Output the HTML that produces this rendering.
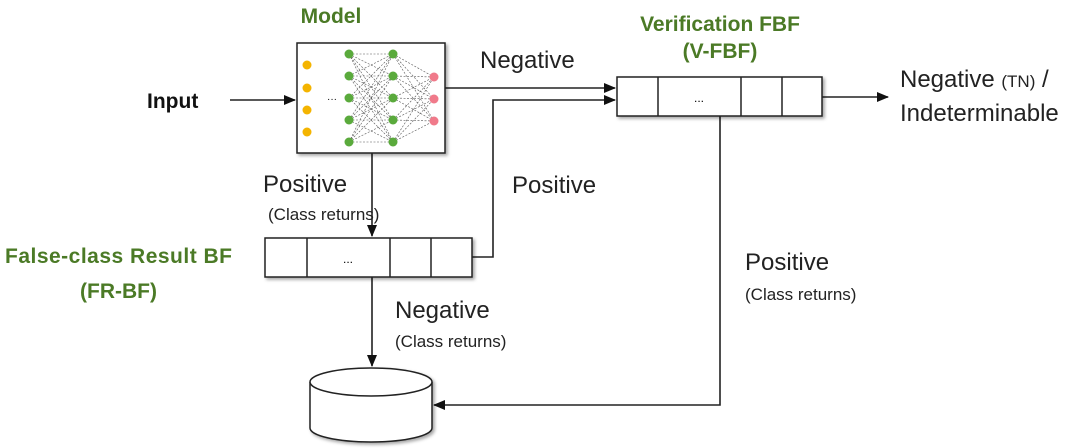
<!DOCTYPE html>
<html><head><style>
body{margin:0;background:#fff;}
svg{display:block;font-family:"Liberation Sans",sans-serif;}
.l{font-size:24px;fill:#222;}
.s{font-size:17px;fill:#222;}
.g{font-size:21px;fill:#4b7a26;font-weight:bold;}
</style></head><body>
<svg width="1080" height="448" viewBox="0 0 1080 448">
<defs><marker id="a" markerWidth="12" markerHeight="12" refX="11" refY="6" orient="auto" markerUnits="userSpaceOnUse"><path d="M0,1 L12,6 L0,11z" fill="#111"/></marker>
<filter id="sh"><feDropShadow dx="2" dy="2" stdDeviation="1.5" flood-opacity="0.35"/></filter></defs>
<g stroke="#222" stroke-width="1.6" fill="none">
<line x1="230" y1="100" x2="295" y2="100" marker-end="url(#a)"/>
<line x1="445" y1="88" x2="615" y2="88" marker-end="url(#a)"/>
<polyline points="472,257 493,257 493,100 615,100" marker-end="url(#a)"/>
<line x1="822" y1="97" x2="888" y2="97" marker-end="url(#a)"/>
<line x1="372" y1="153" x2="372" y2="236" marker-end="url(#a)"/>
<line x1="372" y1="277" x2="372" y2="366" marker-end="url(#a)"/>
<polyline points="720,116 720,405 434,405" marker-end="url(#a)"/>
</g>
<g filter="url(#sh)" stroke="#222" stroke-width="1.5" fill="#fff">
<rect x="297" y="43" width="148" height="110"/>
<rect x="265" y="238" width="207" height="39"/>
<rect x="617" y="77" width="205" height="39"/>
<path d="M310,382 L310,428 A61,14 0 0 0 432,428 L432,382"/>
<ellipse cx="371" cy="382" rx="61" ry="14"/>
</g>
<g stroke="#222" stroke-width="1.5">
<line x1="307" y1="238" x2="307" y2="277"/><line x1="390" y1="238" x2="390" y2="277"/><line x1="431" y1="238" x2="431" y2="277"/>
<line x1="658" y1="77" x2="658" y2="116"/><line x1="741" y1="77" x2="741" y2="116"/><line x1="782" y1="77" x2="782" y2="116"/>
</g>
<text x="348" y="263" font-size="12" text-anchor="middle">...</text>
<text x="699" y="102" font-size="12" text-anchor="middle">...</text>
<g stroke="#555" stroke-width="0.6" stroke-dasharray="2,1.5">
<path d="M349,54 L393,54 M349,54 L393,76 M349,54 L393,98 M349,54 L393,120 M349,54 L393,142
M349,76 L393,54 M349,76 L393,76 M349,76 L393,98 M349,76 L393,120 M349,76 L393,142
M349,98 L393,54 M349,98 L393,76 M349,98 L393,98 M349,98 L393,120 M349,98 L393,142
M349,120 L393,54 M349,120 L393,76 M349,120 L393,98 M349,120 L393,120 M349,120 L393,142
M349,142 L393,54 M349,142 L393,76 M349,142 L393,98 M349,142 L393,120 M349,142 L393,142
M393,54 L434,77 M393,54 L434,99 M393,54 L434,121 M393,76 L434,77 M393,76 L434,99 M393,76 L434,121
M393,98 L434,77 M393,98 L434,99 M393,98 L434,121 M393,120 L434,77 M393,120 L434,99 M393,120 L434,121
M393,142 L434,77 M393,142 L434,99 M393,142 L434,121" fill="none"/>
</g>
<text x="327" y="102" font-size="10">···</text>
<g fill="#f4b400"><circle cx="307" cy="65" r="4.5"/><circle cx="307" cy="88" r="4.5"/><circle cx="307" cy="110" r="4.5"/><circle cx="307" cy="132" r="4.5"/></g>
<g fill="#5aaa3c"><circle cx="349" cy="54" r="4.5"/><circle cx="349" cy="76" r="4.5"/><circle cx="349" cy="98" r="4.5"/><circle cx="349" cy="120" r="4.5"/><circle cx="349" cy="142" r="4.5"/>
<circle cx="393" cy="54" r="4.5"/><circle cx="393" cy="76" r="4.5"/><circle cx="393" cy="98" r="4.5"/><circle cx="393" cy="120" r="4.5"/><circle cx="393" cy="142" r="4.5"/></g>
<g fill="#f07a8a"><circle cx="434" cy="77" r="4.5"/><circle cx="434" cy="99" r="4.5"/><circle cx="434" cy="121" r="4.5"/></g>
<text class="g" x="331" y="23" text-anchor="middle">Model</text>
<text class="g" x="720" y="31" text-anchor="middle">Verification FBF</text>
<text class="g" x="720" y="58" text-anchor="middle">(V-FBF)</text>
<text class="g" x="5" y="263" textLength="227">False-class Result BF</text>
<text class="g" x="80" y="298">(FR-BF)</text>
<text x="147" y="108" font-size="21" font-weight="bold" fill="#111">Input</text>
<text class="l" x="480" y="68">Negative</text>
<text class="l" x="263" y="192">Positive</text>
<text class="s" x="268" y="220">(Class returns)</text>
<text class="l" x="512" y="193">Positive</text>
<text class="l" x="395" y="318">Negative</text>
<text class="s" x="395" y="347">(Class returns)</text>
<text class="l" x="745" y="270">Positive</text>
<text class="s" x="745" y="300">(Class returns)</text>
<text class="l" x="900" y="87">Negative <tspan font-size="17">(TN)</tspan> /</text>
<text class="l" x="900" y="121">Indeterminable</text>
</svg>
</body></html>
